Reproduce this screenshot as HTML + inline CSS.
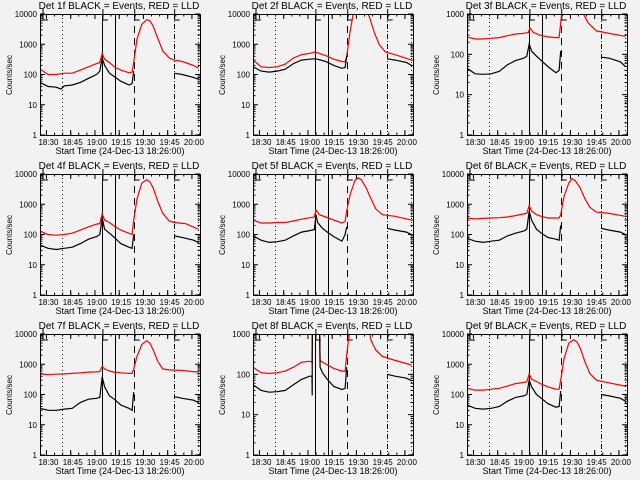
<!DOCTYPE html>
<html><head><meta charset="utf-8"><style>
html,body{margin:0;padding:0;background:#f2f2f2;}
svg{display:block;font-family:"Liberation Sans",sans-serif;}
</style></head><body>
<svg id="chart" width="640" height="480" viewBox="0 0 640 480">
<rect x="0" y="0" width="640" height="480" fill="#f2f2f2"/>
</svg>
<script>
// times in minutes since 18:26
const p1BT=[0,5,10,13,15,20,25,30,35,37,38.5,40,43,46,50,55,57,58], p1BV=[55,40,38,33,42,45,55,75,100,130,350,200,110,85,60,45,50,130];
const p1AT=[83,88,95,98], p1AV=[110,100,80,70];
const p1RT=[0,5,10,15,20,25,30,35,37,38.5,40,43,46,50,55,57,58,60,63,66,68,70,73,76,80,83,88,95,98];
const p1RV=[150,100,100,110,110,140,180,230,250,500,320,250,180,140,115,120,250,1500,4500,6500,6000,4000,1500,600,350,300,270,200,160];

const p2BT=[0,5,10,15,20,25,30,35,38,40,45,50,55,57,58], p2BV=[180,130,120,130,150,230,300,320,330,320,270,200,160,170,400];
const p2AT=[83,88,95,98], p2AV=[330,300,250,200];
const p2RT=[0,5,10,15,20,25,30,35,38,40,45,50,55,57,58,60,62,64,70,72,75,78,82,88,98];
const p2RV=[300,180,170,180,220,350,450,500,550,520,420,320,270,260,400,2500,10000,20000,15000,8000,2500,1000,550,450,300];

const p3BT=[0,5,10,15,20,25,30,35,37,38.5,40,43,46,50,55,57,58], p3BV=[45,33,32,33,38,55,70,80,90,180,120,90,70,50,35,40,120];
const p3AT=[83,88,95,98], p3AV=[85,80,65,50];
const p3RT=[0,5,10,15,20,25,30,35,38,39,41,45,50,55,57,58,59,62,70,72,75,80,88,98];
const p3RV=[270,240,240,250,260,290,320,330,350,450,350,300,270,260,260,600,1500,3000,2000,1000,600,380,330,280];

const p4BT=[0,5,10,15,20,25,30,35,37,38.5,40,43,46,50,55,57,58], p4BV=[45,35,32,35,38,50,70,85,100,350,150,110,80,50,38,35,100];
const p4AT=[83,88,95,98], p4AV=[90,80,65,55];
const p4RT=[0,5,10,15,20,25,30,35,37,38.5,40,43,46,50,55,57,58,60,63,66,68,70,73,76,80,83,90,98];
const p4RV=[130,100,95,100,110,140,180,220,230,480,300,250,190,140,110,100,300,1500,5000,6500,5500,3500,1200,500,280,250,230,150];

const p5BT=[0,5,10,15,20,25,30,35,38,39,40,43,46,50,55,57,58], p5BV=[90,65,55,58,65,90,120,135,145,450,250,160,120,85,60,100,180];
const p5AT=[83,88,95,98], p5AV=[160,140,120,100];
const p5RT=[0,5,10,15,20,25,30,35,38,39,41,45,50,55,57,58,60,63,65,67,70,73,76,80,88,98];
const p5RV=[300,240,240,250,250,280,320,360,380,650,450,380,300,240,270,600,2000,6000,7500,6500,3500,1500,700,450,400,300];

const p6BT=[0,5,10,15,20,25,30,35,37,38.5,40,43,46,50,55,57,58], p6BV=[75,60,55,60,65,90,110,130,150,600,300,150,110,80,70,65,200];
const p6AT=[83,88,95,98], p6AV=[160,140,120,100];
const p6RT=[0,5,10,15,20,25,30,35,37,38.5,40,43,46,50,55,57,58,60,63,65,67,70,73,76,80,88,98];
const p6RV=[350,330,340,350,360,380,420,480,500,900,600,450,400,350,350,350,450,1800,5000,7000,6000,3500,1500,800,550,500,400];

const p7BT=[0,5,10,15,20,25,30,35,37,38.5,40,43,46,50,55,57,58], p7BV=[35,30,30,33,35,55,70,75,80,380,180,90,70,45,35,30,120];
const p7AT=[83,88,95,98], p7AV=[85,75,65,55];
const p7RT=[0,5,10,15,20,25,30,35,37,38.5,40,43,46,50,55,57,58,60,63,66,68,70,73,76,80,88,98];
const p7RV=[480,450,470,480,500,520,550,560,570,850,700,600,550,520,500,500,700,1800,4500,6000,5000,3000,1200,700,650,620,550];

const p8BT=[0,5,10,15,20,25,30,35,36.5,36.6,36.7,41,41.5,43,46,50,55,57,58], p8BV=[55,40,36,37,40,55,75,90,90,30,5000,5000,150,110,75,50,42,45,150];
const p8AT=[83,88,95,98], p8AV=[100,90,80,70];
const p8RT=[0,5,10,15,20,25,30,35,36.5,37,41,41.5,45,50,55,57,58,60,62,70,73,76,80,85,98];
const p8RV=[150,110,105,110,120,150,200,210,200,5000,5000,220,180,140,120,120,300,1500,5000,3000,700,400,280,240,170];

const p9BT=[0,5,10,15,20,25,30,35,37,38.5,40,43,46,50,55,57,58], p9BV=[45,35,33,35,40,60,80,90,100,300,180,100,75,50,38,40,130];
const p9AT=[83,88,95,98], p9AV=[100,90,75,60];
const p9RT=[0,5,10,15,20,25,30,35,37,38.5,40,43,46,50,55,57,58,60,63,66,68,70,73,76,80,85,98];
const p9RV=[160,140,140,150,160,190,230,250,260,480,320,270,220,180,150,150,300,1500,5000,6500,5500,3500,1200,500,300,260,190];

const panelDecades=[4,4,3,4,4,4,4,3,4];
const xTickLabels=["18:30","18:45","19:00","19:15","19:30","19:45","20:00"];
const xTickTimes=[4,19,34,49,64,79,94];
const eventLineTimes=[13.6,38.3,46.3,58,82.7,98];

const series=[
 [p1BT,p1BV,p1AT,p1AV,p1RT,p1RV],[p2BT,p2BV,p2AT,p2AV,p2RT,p2RV],[p3BT,p3BV,p3AT,p3AV,p3RT,p3RV],
 [p4BT,p4BV,p4AT,p4AV,p4RT,p4RV],[p5BT,p5BV,p5AT,p5AV,p5RT,p5RV],[p6BT,p6BV,p6AT,p6AV,p6RT,p6RV],
 [p7BT,p7BV,p7AT,p7AV,p7RT,p7RV],[p8BT,p8BV,p8AT,p8AV,p8RT,p8RV],[p9BT,p9BV,p9AT,p9AV,p9RT,p9RV]];

const NS="http://www.w3.org/2000/svg";
const svg=document.getElementById('chart');
function mk(tag,attrs,parent){const e=document.createElementNS(NS,tag);for(const k in attrs)e.setAttribute(k,attrs[k]);(parent||svg).appendChild(e);return e;}

for(let i=0;i<9;i++){
  const col=i%3,row=Math.floor(i/3);
  const ox=Math.round(col*213.33),oy=row*160;
  const X0=ox+40,X1=ox+200,Y0=oy+14,Y1=oy+135;
  const dec=panelDecades[i];
  const xs=t=>X0+t*(X1-X0)/99;
  const ys=v=>Y1-Math.log10(v)*(Y1-Y0)/dec;
  const g=mk('g',{});
  
  
  const cid='clip'+i;
  const cp=mk('clipPath',{id:cid},g);mk('rect',{x:X0,y:Y0,width:X1-X0,height:Y1-Y0},cp);
  // title
  const tt=mk('text',{x:ox+119,y:oy+9,'font-size':10,'text-anchor':'middle',fill:'#000'},g);
  tt.textContent='Det '+(i+1)+'f BLACK = Events, RED = LLD';
  
  
  // y title
  const yt=mk('text',{x:0,y:0,'font-size':8,'text-anchor':'middle',transform:'translate('+(ox+12)+','+(oy+75)+') rotate(-90)',fill:'#000'},g);
  yt.textContent='Counts/sec';
  
  
  // x title
  const xt=mk('text',{x:ox+120,y:oy+154,'font-size':9,'text-anchor':'middle',fill:'#000'},g);
  xt.textContent='Start Time (24-Dec-13 18:26:00)';
  
  
  // y ticks
  for(let d=0;d<=dec;d++){
    const y=ys(Math.pow(10,d));
    mk('line',{x1:X0,x2:X0+5,y1:y,y2:y,stroke:'#000','stroke-width':1},g);
    mk('line',{x1:X1,x2:X1-5,y1:y,y2:y,stroke:'#000','stroke-width':1},g);
    const lb=mk('text',{x:X0-3,y:y+3,'font-size':8,'text-anchor':'end',fill:'#000'},g);
    lb.textContent=String(Math.pow(10,d));
    
    
    if(d<dec)for(let m=2;m<10;m++){const ym=ys(m*Math.pow(10,d));
      mk('line',{x1:X0,x2:X0+2.5,y1:ym,y2:ym,stroke:'#000','stroke-width':1},g);
      mk('line',{x1:X1,x2:X1-2.5,y1:ym,y2:ym,stroke:'#000','stroke-width':1},g);}
  }
  // x ticks
  for(let t=-1;t<=99;t+=5){ if(t<0)continue; const x=xs(t);
    mk('line',{x1:x,x2:x,y1:Y1,y2:Y1-2.5,stroke:'#000'},g);mk('line',{x1:x,x2:x,y1:Y0,y2:Y0+2.5,stroke:'#000'},g);}
  xTickTimes.forEach((t,k)=>{const x=xs(t);
    mk('line',{x1:x,x2:x,y1:Y1,y2:Y1-5,stroke:'#000'},g);mk('line',{x1:x,x2:x,y1:Y0,y2:Y0+5,stroke:'#000'},g);
    const lb=mk('text',{x:x+2,y:Y1+10,'font-size':8,'text-anchor':'middle',fill:'#000'},g);
    lb.textContent=xTickLabels[k];
    
    });
  // event lines
  const styles=['1,3','','','7,5','5,2,1,2','1,3'];
  eventLineTimes.forEach((t,k)=>{const x=Math.round(xs(t))+0.5;
    const l=mk('line',{x1:x,x2:x,y1:Y0,y2:Y1,stroke:'#000','stroke-width':1},g);
    if(styles[k])l.setAttribute('stroke-dasharray',styles[k]);
    
    });
  // markers at top
  [[X0+2,'L'],[xs(38.3),'F'],[xs(58),'S'],[xs(82.7),'L']].forEach(([x,c])=>{
    mk('path',{d:'M'+(x+1)+' '+(Y0-5)+' V'+(Y0+6)+' H'+(x+6),fill:'none',stroke:'#000'},g);
  });
  // series
  const s=series[i];
  const line=(T,V,color,name)=>{const pts=T.map((t,k)=>xs(t).toFixed(1)+','+ys(V[k]).toFixed(1)).join(' ');
    const p=mk('polyline',{points:pts,fill:'none',stroke:color,'stroke-width':1.2,'clip-path':'url(#'+cid+')'},g);
    
    };
  line(s[4],s[5],'#ff0000','lld-series');
  line(s[0],s[1],'#000','events-series');
  line(s[2],s[3],'#000','events-series-post');
  // box
  const bx=mk('rect',{x:X0+0.5,y:Y0+0.5,width:X1-X0,height:Y1-Y0,fill:'none',stroke:'#000'},g);
  
  
}
</script>
</body></html>
